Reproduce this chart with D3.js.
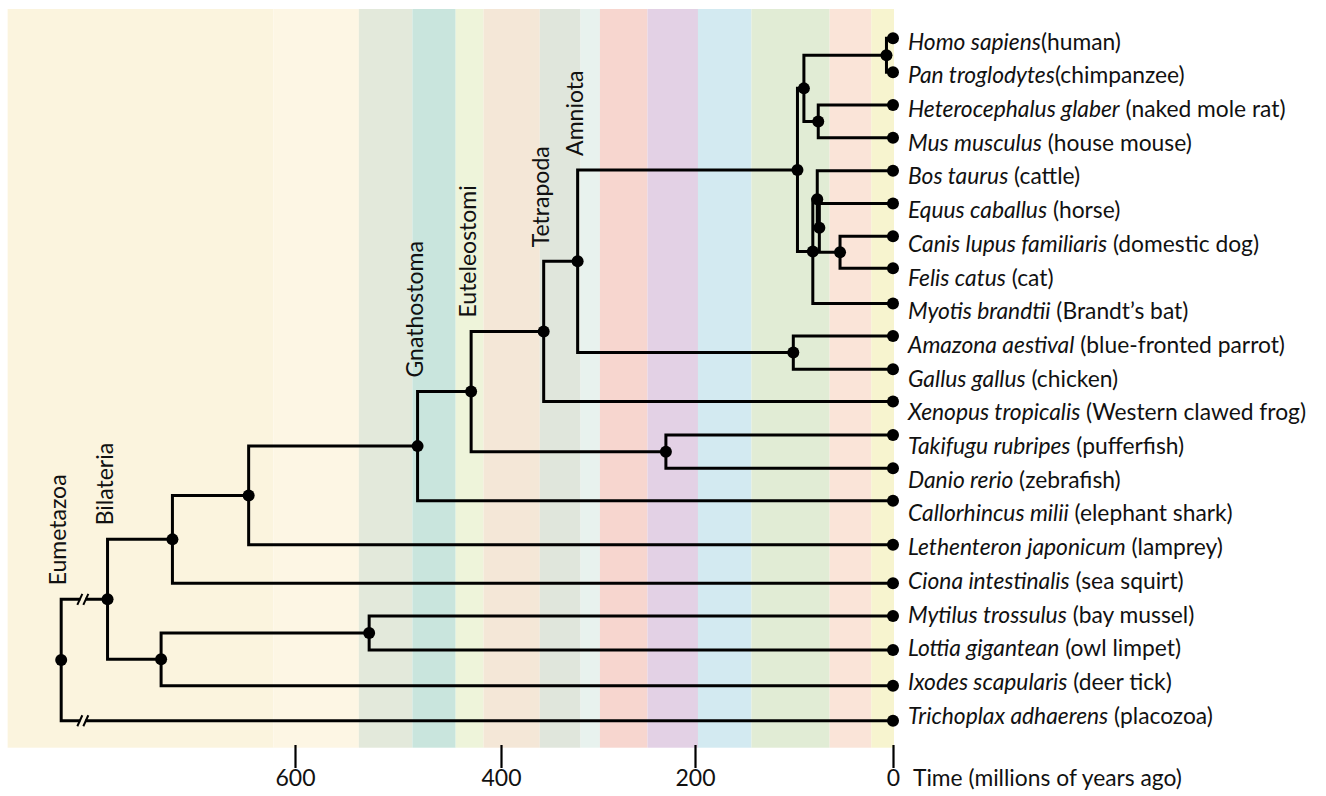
<!DOCTYPE html>
<html>
<head>
<meta charset="utf-8">
<script src="https://cdn.jsdelivr.net/npm/d3@7"></script>
<style>
  html, body { margin: 0; padding: 0; background: #ffffff; }
  svg { display: block; }
  text { font-family: Lato, "Open Sans", sans-serif; fill: #111; }
</style>
</head>
<body>
<svg id="chart" width="1326" height="796"></svg>
<script>
// ---------------- DATA ----------------
// Leaves, top to bottom
const speciesLatin = [
  "Homo sapiens", "Pan troglodytes", "Heterocephalus glaber", "Mus musculus",
  "Bos taurus", "Equus caballus", "Canis lupus familiaris", "Felis catus",
  "Myotis brandtii", "Amazona aestival", "Gallus gallus", "Xenopus tropicalis",
  "Takifugu rubripes", "Danio rerio", "Callorhincus milii", "Lethenteron japonicum",
  "Ciona intestinalis", "Mytilus trossulus", "Lottia gigantean", "Ixodes scapularis",
  "Trichoplax adhaerens"
];
const speciesCommon = [
  "(human)", "(chimpanzee)", " (naked mole rat)", " (house mouse)",
  " (cattle)", " (horse)", " (domestic dog)", " (cat)",
  " (Brandt\u2019s bat)", " (blue-fronted parrot)", " (chicken)", " (Western clawed frog)",
  " (pufferfish)", " (zebrafish)", " (elephant shark)", " (lamprey)",
  " (sea squirt)", " (bay mussel)", " (owl limpet)", " (deer tick)",
  " (placozoa)"
];
// tip position of each leaf in row units (row 0 = first label line)
const leafRow = [
  -0.10, 0.91, 1.88, 2.85, 3.83, 4.80, 5.77, 6.72, 7.77, 8.73, 9.72, 10.68,
  11.67, 12.66, 13.62, 14.93, 16.07, 17.04, 18.05, 19.11, 20.15
];
// internal nodes: name, age (millions of years ago), children
const nodeNames = [
  "Eumetazoa", "Bilateria", "Olfactores", "Vertebrata", "Gnathostomata",
  "Euteleostomi", "Tetrapoda", "Amniota", "Boreoeutheria", "Euarchontoglires",
  "Primates", "Rodentia", "Laurasiatheria", "Fereuungulata", "EquusCarnivora",
  "Carnivora", "Aves", "Teleostei", "Protostomia", "Mollusca"
];
const nodeAges = [
  827, 782, 719, 645, 481,
  429, 356, 321, 96.5, 90,
  6.6, 75.5, 81, 76.5, 74.4,
  53.5, 100.7, 230, 730, 528
];
const nodeChildren = [
  ["Bilateria", "Trichoplax adhaerens"],
  ["Olfactores", "Protostomia"],
  ["Vertebrata", "Ciona intestinalis"],
  ["Gnathostomata", "Lethenteron japonicum"],
  ["Euteleostomi", "Callorhincus milii"],
  ["Tetrapoda", "Teleostei"],
  ["Amniota", "Xenopus tropicalis"],
  ["Boreoeutheria", "Aves"],
  ["Euarchontoglires", "Laurasiatheria"],
  ["Primates", "Rodentia"],
  ["Homo sapiens", "Pan troglodytes"],
  ["Heterocephalus glaber", "Mus musculus"],
  ["Fereuungulata", "Myotis brandtii"],
  ["Bos taurus", "EquusCarnivora"],
  ["Equus caballus", "Carnivora"],
  ["Canis lupus familiaris", "Felis catus"],
  ["Amazona aestival", "Gallus gallus"],
  ["Takifugu rubripes", "Danio rerio"],
  ["Mollusca", "Ixodes scapularis"],
  ["Mytilus trossulus", "Lottia gigantean"]
];
// clade labels shown on the figure
const cladeLabelNodes = ["Eumetazoa", "Bilateria", "Gnathostomata", "Euteleostomi", "Tetrapoda", "Amniota"];
const cladeLabelTexts = ["Eumetazoa", "Bilateria", "Gnathostoma", "Euteleostomi", "Tetrapoda", "Amniota"];
// branches drawn with a "//" break, and age at which the break mark sits
const brokenBranches = ["Bilateria", "Trichoplax adhaerens"];
const breakAge = 806;

// geologic time bands (edges in Mya, oldest first) and their colours
const bandEdges = [879, 621, 538, 486, 444, 417, 360, 318, 298, 249, 197, 143, 64, 22, -1];
const bandColors = [
  "#fbf4de", "#fdf6e4", "#e3e9db", "#c9e5dd", "#eef4da", "#f4e7d7",
  "#e0e6dc", "#e8f2ee", "#f7d6cf", "#e3d1e5", "#d3eaf1", "#e1ecd5",
  "#fae4d8", "#f7f4cf"
];
// axis
const tickValues = [600, 400, 200, 0];
const axisTitle = "Time (millions of years ago)";

// ---------------- DRAWING ----------------
const svg = d3.select("#chart");

const x = d3.scaleLinear().domain([600, 400, 200, 0]).range([295, 501, 695, 893]);
const yRow = d3.scaleLinear().domain([0, 20]).range([41.7, 715.7]);
const panelTop = 9, panelBottom = 747.7;

// background bands
const bands = bandColors.map((c, i) => ({ from: bandEdges[i], to: bandEdges[i + 1], color: c }));
svg.append("g").selectAll("rect").data(bands).join("rect")
  .attr("x", d => x(d.from))
  .attr("width", d => x(d.to) - x(d.from))
  .attr("y", panelTop)
  .attr("height", panelBottom - panelTop)
  .attr("fill", d => d.color);

// build hierarchy
const nodeIndex = new Map(nodeNames.map((n, i) => [n, i]));
const leafIndex = new Map(speciesLatin.map((n, i) => [n, i]));
function build(name) {
  if (nodeIndex.has(name)) {
    const i = nodeIndex.get(name);
    return { name, age: nodeAges[i], children: nodeChildren[i].map(build) };
  }
  const j = leafIndex.get(name);
  return { name, age: 0, row: leafRow[j], leaf: j };
}
const root = d3.hierarchy(build("Eumetazoa"));
root.eachAfter(n => {
  n.px = x(n.data.age);
  if (n.children) {
    n.py = (n.children[0].py + n.children[n.children.length - 1].py) / 2;
  } else {
    n.py = yRow(n.data.row);
  }
});

// branches
const lineG = svg.append("g")
  .attr("fill", "none").attr("stroke", "#000").attr("stroke-width", 3)
  .attr("stroke-linejoin", "miter").attr("stroke-linecap", "square");
lineG.selectAll("path").data(root.links()).join("path")
  .attr("d", l => `M${l.source.px},${l.source.py}V${l.target.py}H${l.target.px}`);

// break marks
const breakLinks = root.links().filter(l => brokenBranches.includes(l.target.data.name));
const bx = x(breakAge);
const brk = svg.append("g");
breakLinks.forEach(l => {
  const y0 = l.target.py;
  brk.append("line").attr("x1", bx - 2.5).attr("x2", bx + 2.5).attr("y1", y0).attr("y2", y0)
    .attr("stroke", bandColors[0]).attr("stroke-width", 5);
  [-3, 3].forEach(o => {
    brk.append("line")
      .attr("x1", bx + o - 2.5).attr("y1", y0 + 5.5)
      .attr("x2", bx + o + 2.5).attr("y2", y0 - 5.5)
      .attr("stroke", "#000").attr("stroke-width", 2);
  });
});

// node dots
svg.append("g").selectAll("circle").data(root.descendants()).join("circle")
  .attr("cx", d => d.px).attr("cy", d => d.py).attr("r", 6).attr("fill", "#000");

// clade labels
const cladeData = cladeLabelNodes.map((n, i) => ({ node: root.find(d => d.data.name === n), text: cladeLabelTexts[i] }));
svg.append("g").selectAll("text").data(cladeData).join("text")
  .attr("transform", d => `translate(${d.node.px - 3},${d.node.children[0].py - 14}) rotate(-90)`)
  .attr("dy", "0.35em")
  .attr("font-size", 23)
  .text(d => d.text);

// species labels
const yLabel = d3.scalePoint().domain(speciesLatin).range([41.7, 715.7]);
const lab = svg.append("g").selectAll("text").data(speciesLatin).join("text")
  .attr("x", 908).attr("y", d => yLabel(d)).attr("dy", "0.35em")
  .attr("font-size", 22.8);
lab.append("tspan").attr("font-style", "italic").text(d => d);
lab.append("tspan").text((d, i) => speciesCommon[i]);

// axis
const axis = d3.axisBottom(x).tickValues(tickValues).tickSize(23).tickPadding(2).tickFormat(d3.format("d"));
const ag = svg.append("g").attr("transform", `translate(0,745)`).call(axis);
ag.select(".domain").remove();
ag.selectAll(".tick line").attr("stroke", "#000").attr("stroke-width", 2.2);
ag.selectAll(".tick text").attr("font-size", 23).attr("font-family", "Lato, 'Open Sans', sans-serif").attr("fill", "#111");
svg.append("text").attr("x", 913).attr("y", 745 + 25).attr("dy", "0.71em")
  .attr("font-size", 22.8).text(axisTitle);
</script>
</body>
</html>
